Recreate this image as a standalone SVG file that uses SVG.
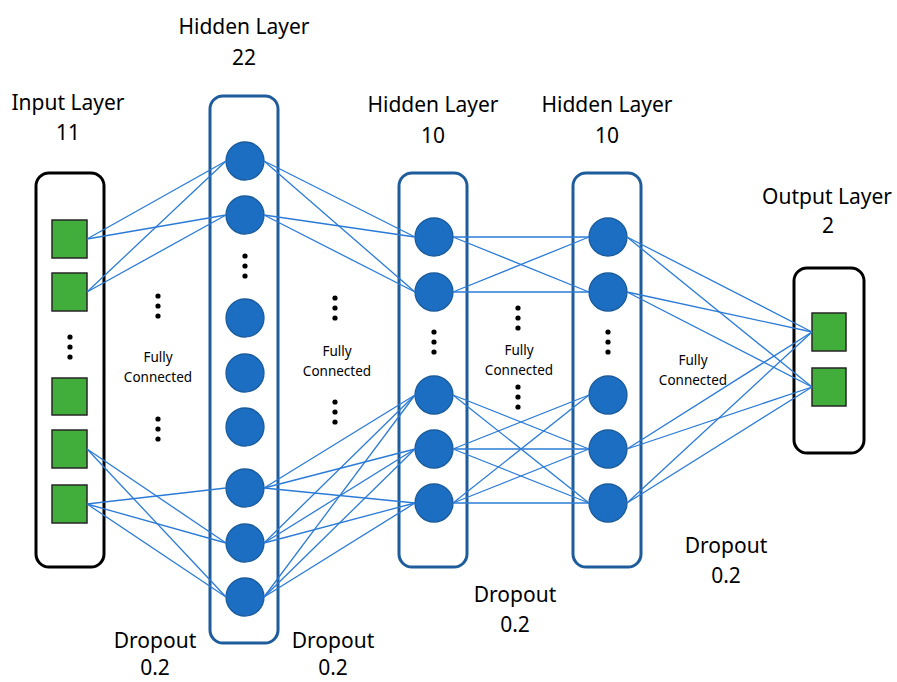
<svg xmlns="http://www.w3.org/2000/svg" width="897" height="682" viewBox="0 0 897 682">
<style>
.bg{fill:#ffffff}
.boxk{fill:#ffffff;stroke:#000000;stroke-width:3}
.boxb{fill:#ffffff;stroke:#1f5c9b;stroke-width:3}
.sq{fill:#41ad3b;stroke:#262626;stroke-width:1.5}
.nd{fill:#1b6ec2;stroke:#1a5b9c;stroke-width:1.3}
.dot{fill:#000000}
.lbl{font-family:"Noto Sans","Open Sans","Liberation Sans",sans-serif;font-size:21px;fill:#000000;text-anchor:middle}
.sm{font-family:"Noto Sans","Open Sans","Liberation Sans",sans-serif;font-size:13.5px;fill:#000000;text-anchor:middle}
#connectors line{stroke:#2b7bd6;stroke-width:1.3}
</style>
<rect class="bg" x="0" y="0" width="897" height="682"/>

<g id="input-layer">
<rect class="boxk" x="36" y="173" width="68" height="394" rx="13"/>
<rect class="sq" x="52" y="220" width="35" height="38"/>
<rect class="sq" x="52" y="273" width="35" height="38"/>
<rect class="sq" x="52" y="378" width="35" height="37"/>
<rect class="sq" x="52" y="430" width="35" height="38"/>
<rect class="sq" x="52" y="485" width="35" height="38"/>
<circle class="dot" cx="70" cy="337" r="2.6"/><circle class="dot" cx="70" cy="347" r="2.6"/><circle class="dot" cx="70" cy="357" r="2.6"/>
<text class="lbl" x="68" y="110">Input Layer</text>
<text class="lbl" x="68" y="140">11</text>
</g>

<g id="hidden-layer-22">
<rect class="boxb" x="210" y="96" width="68" height="547" rx="13"/>
<circle class="nd" cx="245" cy="161" r="19"/>
<circle class="nd" cx="245" cy="215" r="19"/>
<circle class="nd" cx="245" cy="318" r="19"/>
<circle class="nd" cx="245" cy="373" r="19"/>
<circle class="nd" cx="245" cy="427" r="19"/>
<circle class="nd" cx="245" cy="488" r="19"/>
<circle class="nd" cx="245" cy="543" r="19"/>
<circle class="nd" cx="245" cy="597" r="19"/>
<circle class="dot" cx="245" cy="256" r="2.6"/><circle class="dot" cx="245" cy="266" r="2.6"/><circle class="dot" cx="245" cy="276" r="2.6"/>
<text class="lbl" x="244" y="34">Hidden Layer</text>
<text class="lbl" x="244" y="65">22</text>
</g>

<g id="hidden-layer-10a">
<rect class="boxb" x="399" y="173" width="68" height="394" rx="13"/>
<circle class="nd" cx="434" cy="237" r="19"/>
<circle class="nd" cx="434" cy="292" r="19"/>
<circle class="nd" cx="434" cy="395" r="19"/>
<circle class="nd" cx="434" cy="449" r="19"/>
<circle class="nd" cx="434" cy="503" r="19"/>
<circle class="dot" cx="434" cy="332" r="2.6"/><circle class="dot" cx="434" cy="342" r="2.6"/><circle class="dot" cx="434" cy="352" r="2.6"/>
<text class="lbl" x="433" y="112">Hidden Layer</text>
<text class="lbl" x="433" y="143">10</text>
</g>

<g id="hidden-layer-10b">
<rect class="boxb" x="573" y="173" width="68" height="394" rx="13"/>
<circle class="nd" cx="608" cy="237" r="19"/>
<circle class="nd" cx="608" cy="292" r="19"/>
<circle class="nd" cx="608" cy="395" r="19"/>
<circle class="nd" cx="608" cy="449" r="19"/>
<circle class="nd" cx="608" cy="503" r="19"/>
<circle class="dot" cx="608" cy="332" r="2.6"/><circle class="dot" cx="608" cy="342" r="2.6"/><circle class="dot" cx="608" cy="352" r="2.6"/>
<text class="lbl" x="607" y="112">Hidden Layer</text>
<text class="lbl" x="607" y="143">10</text>
</g>

<g id="output-layer">
<rect class="boxk" x="794" y="268" width="70" height="185" rx="13"/>
<rect class="sq" x="812" y="313" width="34" height="38"/>
<rect class="sq" x="812" y="368" width="34" height="38"/>
<text class="lbl" x="827" y="204">Output Layer</text>
<text class="lbl" x="828" y="233">2</text>
</g>

<g id="connectors">
<line x1="87" y1="239" x2="226" y2="161"/>
<line x1="87" y1="239" x2="226" y2="215"/>
<line x1="87" y1="292" x2="226" y2="161"/>
<line x1="87" y1="292" x2="226" y2="215"/>
<line x1="87" y1="449" x2="226" y2="543"/>
<line x1="87" y1="449" x2="226" y2="597"/>
<line x1="87" y1="504" x2="226" y2="488"/>
<line x1="87" y1="504" x2="226" y2="543"/>
<line x1="87" y1="504" x2="226" y2="597"/>

<line x1="264" y1="161" x2="415" y2="237"/>
<line x1="264" y1="161" x2="415" y2="292"/>
<line x1="264" y1="215" x2="415" y2="237"/>
<line x1="264" y1="215" x2="415" y2="292"/>
<line x1="264" y1="488" x2="415" y2="395"/>
<line x1="264" y1="488" x2="415" y2="449"/>
<line x1="264" y1="488" x2="415" y2="503"/>
<line x1="264" y1="543" x2="415" y2="395"/>
<line x1="264" y1="543" x2="415" y2="449"/>
<line x1="264" y1="543" x2="415" y2="503"/>
<line x1="264" y1="597" x2="415" y2="395"/>
<line x1="264" y1="597" x2="415" y2="449"/>
<line x1="264" y1="597" x2="415" y2="503"/>

<line x1="453" y1="237" x2="589" y2="237"/>
<line x1="453" y1="237" x2="589" y2="292"/>
<line x1="453" y1="292" x2="589" y2="237"/>
<line x1="453" y1="292" x2="589" y2="292"/>
<line x1="453" y1="395" x2="589" y2="449"/>
<line x1="453" y1="395" x2="589" y2="503"/>
<line x1="453" y1="449" x2="589" y2="395"/>
<line x1="453" y1="449" x2="589" y2="449"/>
<line x1="453" y1="449" x2="589" y2="503"/>
<line x1="453" y1="503" x2="589" y2="395"/>
<line x1="453" y1="503" x2="589" y2="449"/>
<line x1="453" y1="503" x2="589" y2="503"/>

<line x1="627" y1="237" x2="812" y2="332"/>
<line x1="627" y1="237" x2="812" y2="387"/>
<line x1="627" y1="292" x2="812" y2="332"/>
<line x1="627" y1="292" x2="812" y2="387"/>
<line x1="627" y1="449" x2="812" y2="332"/>
<line x1="627" y1="449" x2="812" y2="387"/>
<line x1="627" y1="503" x2="812" y2="332"/>
<line x1="627" y1="503" x2="812" y2="387"/>
</g>

<g id="annotations">
<circle class="dot" cx="158" cy="296" r="2.6"/><circle class="dot" cx="158" cy="306" r="2.6"/><circle class="dot" cx="158" cy="316" r="2.6"/>
<text class="sm" x="158" y="362">Fully</text>
<text class="sm" x="158" y="382">Connected</text>
<circle class="dot" cx="158" cy="419" r="2.6"/><circle class="dot" cx="158" cy="429" r="2.6"/><circle class="dot" cx="158" cy="439" r="2.6"/>

<circle class="dot" cx="335" cy="298" r="2.6"/><circle class="dot" cx="335" cy="308" r="2.6"/><circle class="dot" cx="335" cy="318" r="2.6"/>
<text class="sm" x="337" y="356">Fully</text>
<text class="sm" x="337" y="376">Connected</text>
<circle class="dot" cx="335" cy="402" r="2.6"/><circle class="dot" cx="335" cy="412" r="2.6"/><circle class="dot" cx="335" cy="422" r="2.6"/>

<circle class="dot" cx="518" cy="308" r="2.6"/><circle class="dot" cx="518" cy="318" r="2.6"/><circle class="dot" cx="518" cy="328" r="2.6"/>
<text class="sm" x="519" y="355">Fully</text>
<text class="sm" x="519" y="375">Connected</text>
<circle class="dot" cx="518" cy="387" r="2.6"/><circle class="dot" cx="518" cy="397" r="2.6"/><circle class="dot" cx="518" cy="407" r="2.6"/>

<text class="sm" x="693" y="365">Fully</text>
<text class="sm" x="693" y="385">Connected</text>

<text class="lbl" x="155" y="648">Dropout</text>
<text class="lbl" x="155" y="675">0.2</text>
<text class="lbl" x="333" y="648">Dropout</text>
<text class="lbl" x="333" y="675">0.2</text>
<text class="lbl" x="515" y="602">Dropout</text>
<text class="lbl" x="515" y="632">0.2</text>
<text class="lbl" x="726" y="553">Dropout</text>
<text class="lbl" x="726" y="583">0.2</text>
</g>
</svg>
